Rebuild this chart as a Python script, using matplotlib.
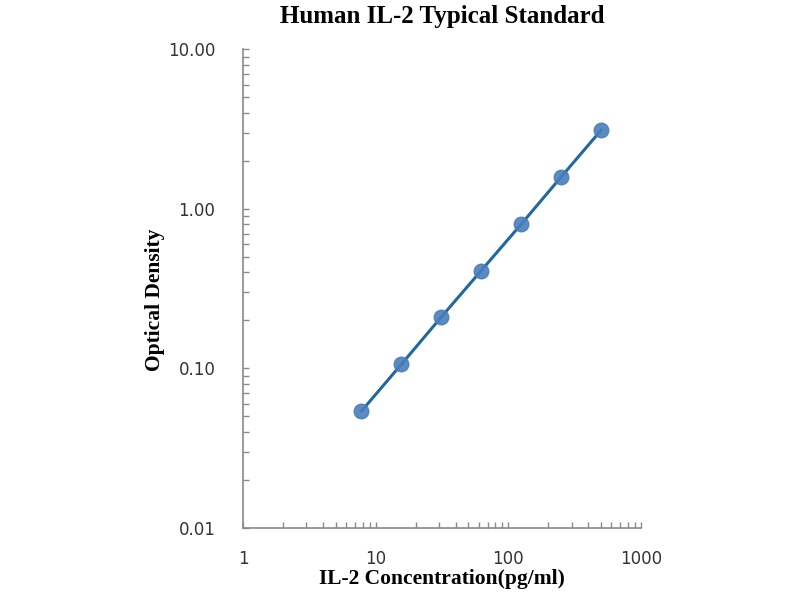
import numpy as np
import matplotlib
matplotlib.use('Agg')
import matplotlib.pyplot as plt
from matplotlib.ticker import LogLocator, FixedLocator, NullFormatter

# standard curve data
conc = [7.8, 15.6, 31.25, 62.5, 125, 250, 500]
od = [0.054, 0.106, 0.21, 0.41, 0.80, 1.58, 3.1]

xticks = [1, 10, 100, 1000]
xlabels = ['1', '10', '100', '1000']
yticks = [0.01, 0.1, 1, 10]
ylabels = ['0.01', '0.10', '1.00', '10.00']

plt.rcParams['font.family'] = ['DejaVu Sans']

fig = plt.figure(figsize=(8, 6), dpi=100)
ax = fig.add_axes([0.304, 0.12, 0.497, 0.798])

ax.plot(conc, od, color='#22689f', lw=2.2, zorder=2)
ax.plot(conc, od, 'o', ms=10.5, color='#4a7ebb', alpha=0.9, mec='#4a7ebb', zorder=3)

ax.set_xscale('log')
ax.set_yscale('log')
ax.set_xlim(1, 1000)
ax.set_ylim(0.01, 10)

ax.xaxis.set_major_locator(FixedLocator(xticks))
ax.yaxis.set_major_locator(FixedLocator(yticks))
ax.set_xticklabels(xlabels)
ax.set_yticklabels(ylabels)
ax.xaxis.set_minor_locator(LogLocator(base=10, subs=np.arange(2, 10)))
ax.yaxis.set_minor_locator(LogLocator(base=10, subs=np.arange(2, 10)))
ax.xaxis.set_minor_formatter(NullFormatter())
ax.yaxis.set_minor_formatter(NullFormatter())

for s in ['top', 'right']:
    ax.spines[s].set_visible(False)
for s in ['left', 'bottom']:
    ax.spines[s].set_color('#8a8a8a')
    ax.spines[s].set_linewidth(1.2)

ax.tick_params(which='both', direction='in', length=4, width=1, color='#8a8a8a',
               labelsize=12, labelcolor='#333333')
ax.tick_params(axis='y', which='major', pad=20)
ax.tick_params(axis='x', which='major', pad=16)

fig.text(0.553, 0.972, 'Human IL-2 Typical Standard', ha='center', va='center',
         fontsize=18, fontweight='bold', family='Liberation Serif')
fig.text(0.553, 0.035, 'IL-2 Concentration(pg/ml)', ha='center', va='center',
         fontsize=15.5, fontweight='bold', family='Liberation Serif')
fig.text(0.194, 0.5, 'Optical Density', ha='center', va='center', rotation=90,
         fontsize=15.5, fontweight='bold', family='Liberation Serif')

fig.savefig('out.png', dpi=100)
